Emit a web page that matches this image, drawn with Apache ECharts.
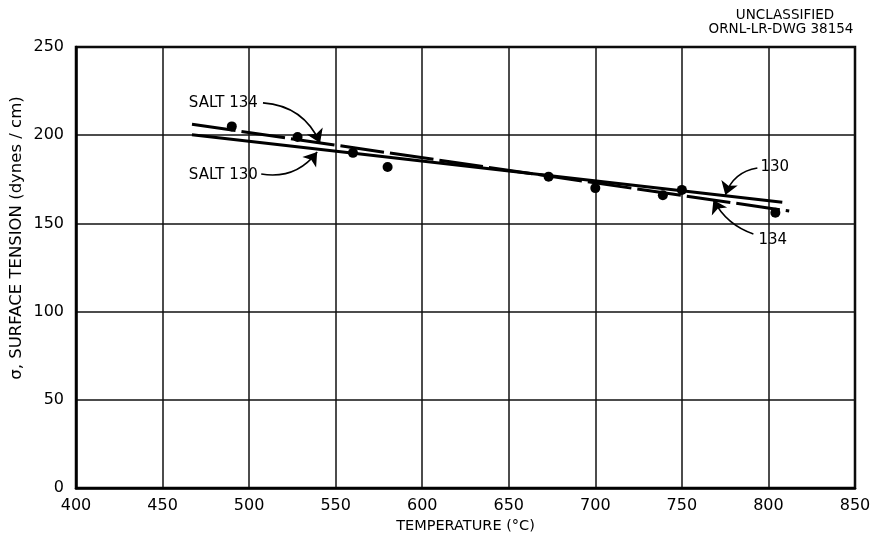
<!DOCTYPE html>
<html>
<head>
<meta charset="utf-8">
<script src="https://cdn.jsdelivr.net/npm/echarts@6/dist/echarts.min.js"></script>
<style>
  html, body { margin: 0; padding: 0; background: #fff; }
  #chart { width: 875px; height: 544px; }
</style>
</head>
<body>
<div id="chart"></div>
<script>
// Measured surface tension points (temperature °C, dynes/cm)
const temps = [490, 528, 560, 580, 673, 700, 739, 750, 804];
const tension = [205, 199, 190, 182, 176.5, 170, 166, 169, 156];

// Fitted lines for the two salts (end points)
const salt130X = [467, 808];
const salt130Y = [200.3, 162];
const salt134X = [467, 812];
const salt134Y = [206.2, 157];

// Axis ticks
const xTicks = [400, 450, 500, 550, 600, 650, 700, 750, 800, 850];
const yTicks = [0, 50, 100, 150, 200, 250];

// Callout texts and leader arrows (data coordinates)
const calloutText = ['SALT 134', 'SALT 130', '130', '134'];
const calloutAt = [[505, 218.3], [505, 177.4], [795.4, 182], [794.2, 140.6]];
const calloutAlign = ['right', 'right', 'left', 'left'];
const arrowFrom = [[508, 218.3], [507, 178], [793.6, 181.4], [791.3, 144]];
const arrowTo = [[541, 195.6], [539.3, 190.5], [775.1, 166.1], [768.2, 163.3]];
const arrowBend = [0.3, -0.3, -0.3, 0.2];

const FONT = 'DejaVu Sans';
const chart = echarts.init(document.getElementById('chart'), null, { renderer: 'canvas' });

const option = {
  backgroundColor: '#fff',
  animation: false,
  textStyle: { fontFamily: FONT, color: '#000' },
  grid: {
    left: 76, right: 20, top: 47, bottom: 56,
    show: true, borderColor: '#000', borderWidth: 2.5, backgroundColor: 'transparent'
  },
  xAxis: {
    type: 'value',
    min: xTicks[0], max: xTicks[xTicks.length - 1], interval: 50,
    name: 'TEMPERATURE (\u00B0C)',
    nameLocation: 'middle', nameGap: 26,
    nameTextStyle: { fontFamily: FONT, fontSize: 14.5, color: '#000' },
    axisLine: { lineStyle: { color: '#000', width: 2.5 } },
    axisTick: { show: false },
    axisLabel: { margin: 10, fontFamily: FONT, fontSize: 16, color: '#000' },
    splitLine: { lineStyle: { color: '#111', width: 1.5 } }
  },
  yAxis: {
    type: 'value',
    min: yTicks[0], max: yTicks[yTicks.length - 1], interval: 50,
    axisLine: { lineStyle: { color: '#000', width: 2.5 } },
    axisTick: { show: false },
    axisLabel: { margin: 12, fontFamily: FONT, fontSize: 16, color: '#000' },
    splitLine: { lineStyle: { color: '#111', width: 1.5 } }
  },
  graphic: [
    {
      type: 'text', x: 785, y: 15,
      style: {
        text: 'UNCLASSIFIED', fontFamily: FONT, fontSize: 13.5, fill: '#000',
        align: 'center', verticalAlign: 'middle'
      }
    },
    {
      type: 'text', x: 781, y: 29,
      style: {
        text: 'ORNL-LR-DWG 38154', fontFamily: FONT, fontSize: 13.5, fill: '#000',
        align: 'center', verticalAlign: 'middle'
      }
    },
    {
      type: 'text',
      x: 17, y: 238, rotation: Math.PI / 2,
      style: {
        text: '\u03C3, SURFACE TENSION (dynes / cm)',
        fontFamily: FONT, fontSize: 16.5, fill: '#000',
        align: 'center', verticalAlign: 'middle'
      }
    }
  ],
  series: [
    {
      name: 'SALT 130', type: 'line', showSymbol: false, symbol: 'none',
      data: salt130X.map((x, i) => [x, salt130Y[i]]),
      lineStyle: { color: '#000', width: 3 }, z: 3
    },
    {
      name: 'SALT 134', type: 'line', showSymbol: false, symbol: 'none',
      data: salt134X.map((x, i) => [x, salt134Y[i]]),
      lineStyle: { color: '#000', width: 3, type: [44, 6] }, z: 3
    },
    {
      name: 'measured', type: 'scatter', symbol: 'circle', symbolSize: 10,
      data: temps.map((t, i) => [t, tension[i]]),
      itemStyle: { color: '#000', opacity: 1 }, z: 4
    },
    {
      name: 'callouts', type: 'scatter', symbolSize: 0, silent: true,
      data: calloutText.map((s, i) => ({
        value: [calloutAt[i][0], calloutAt[i][1]],
        label: { align: calloutAlign[i] },
        name: s
      })),
      itemStyle: { opacity: 1 },
      label: {
        show: true, position: [0, 0], verticalAlign: 'middle',
        formatter: p => p.name,
        fontFamily: FONT, fontSize: 15, color: '#000'
      },
      z: 5
    },
    {
      name: 'leaders', type: 'lines', coordinateSystem: 'cartesian2d',
      symbol: ['none', 'arrow'], symbolSize: [7, 13], silent: true,
      lineStyle: { color: '#000', width: 1.6, opacity: 1 },
      data: arrowFrom.map((f, i) => ({
        coords: [f, arrowTo[i]],
        lineStyle: { curveness: arrowBend[i] }
      })),
      z: 5
    }
  ]
};
chart.setOption(option);
</script>
</body>
</html>
